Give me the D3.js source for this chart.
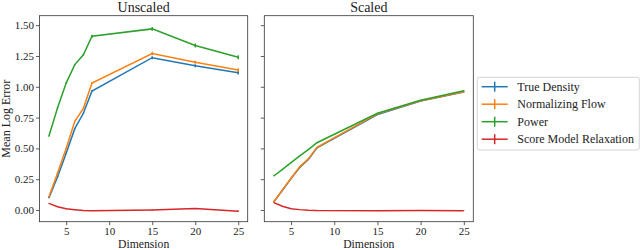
<!DOCTYPE html>
<html>
<head>
<meta charset="utf-8">
<script src="https://cdn.jsdelivr.net/npm/d3@7"></script>
<style>
  body { margin: 0; background: #fff; }
  svg text { font-family: "Liberation Serif", "DejaVu Serif", serif; fill: #222; }
</style>
</head>
<body>
<svg id="svg" width="640" height="250"></svg>
<script>
// dimensions on the x axis
var dims = [3, 4, 5, 6, 7, 8, 15, 20, 25];

var seriesNames = ["True Density", "Normalizing Flow", "Power", "Score Model Relaxation"];
var colors = ["#1f77b4", "#ff7f0e", "#2ca02c", "#d62728"];

// unscaled panel
var unscaledTrue  = [0.10, 0.27, 0.46, 0.66, 0.785, 0.966, 1.236, 1.17, 1.114];
var unscaledFlow  = [0.108, 0.30, 0.50, 0.72, 0.825, 1.03, 1.27, 1.20, 1.136];
var unscaledPower = [0.60, 0.83, 1.03, 1.18, 1.26, 1.41, 1.47, 1.335, 1.24];
var unscaledScore = [0.054, 0.027, 0.01, 0.002, -0.005, -0.006, 0.0, 0.012, -0.01];
var unscaledErr   = [
  [0.005, 0.005, 0.005, 0.005, 0.005, 0.006, 0.012, 0.012, 0.014],
  [0.005, 0.005, 0.005, 0.005, 0.005, 0.008, 0.015, 0.012, 0.014],
  [0.005, 0.005, 0.005, 0.005, 0.006, 0.012, 0.016, 0.016, 0.016],
  [0.003, 0.003, 0.003, 0.003, 0.003, 0.003, 0.004, 0.004, 0.005]
];

// scaled panel
var scaledTrue  = [0.065, 0.16, 0.255, 0.345, 0.41, 0.505, 0.775, 0.885, 0.958];
var scaledFlow  = [0.067, 0.163, 0.258, 0.35, 0.415, 0.509, 0.78, 0.887, 0.96];
var scaledPower = [0.276, 0.33, 0.385, 0.44, 0.49, 0.546, 0.785, 0.89, 0.968];
var scaledScore = [0.06, 0.03, 0.01, 0.003, -0.002, -0.004, -0.006, -0.005, -0.006];
var scaledErr   = [
  [0.003, 0.003, 0.003, 0.003, 0.003, 0.003, 0.004, 0.004, 0.004],
  [0.003, 0.003, 0.003, 0.003, 0.003, 0.003, 0.004, 0.004, 0.004],
  [0.003, 0.003, 0.003, 0.003, 0.003, 0.003, 0.004, 0.004, 0.004],
  [0.002, 0.002, 0.002, 0.002, 0.002, 0.002, 0.002, 0.002, 0.002]
];

var xTicks = [5, 10, 15, 20, 25];
var yTicks = [0, 0.25, 0.5, 0.75, 1.0, 1.25, 1.5];

var svg = d3.select("#svg");

var plotTop = 15.7, plotBottom = 221.7;
var y = d3.scaleLinear().domain([-0.095, 1.577]).range([plotBottom, plotTop]);

var panels = [
  { title: "Unscaled", left: 39.5, right: 247.7, data: [unscaledTrue, unscaledFlow, unscaledPower, unscaledScore], err: unscaledErr, labels: true },
  { title: "Scaled", left: 264.3, right: 473.3, data: [scaledTrue, scaledFlow, scaledPower, scaledScore], err: scaledErr, labels: false }
];

panels.forEach(function(p) {
  var x = d3.scaleLinear().domain([1.9, 26.1]).range([p.left, p.right]);
  var g = svg.append("g");

  var xAxis = g.append("g")
    .attr("transform", "translate(0," + plotBottom + ")")
    .call(d3.axisBottom(x).tickValues(xTicks).tickSize(3.5).tickPadding(2).tickSizeOuter(0));
  var yAxis = g.append("g")
    .attr("transform", "translate(" + p.left + ",0)")
    .call(d3.axisLeft(y).tickValues(yTicks).tickSize(3.5).tickPadding(2).tickSizeOuter(0)
      .tickFormat(p.labels ? d3.format(".2f") : ""));
  [xAxis, yAxis].forEach(function(a) {
    a.attr("font-family", null).attr("font-size", null);
    a.select(".domain").remove();
    a.selectAll("line").attr("stroke", "#333").attr("stroke-width", 0.8);
    a.selectAll("text").style("font-size", "11px").attr("fill", "#222");
  });

  // lines drawn in order, red on top
  p.data.forEach(function(vals, i) {
    var pts = dims.map(function(d, j) { return [d, vals[j], p.err[i][j]]; });
    g.append("path")
      .datum(pts)
      .attr("fill", "none")
      .attr("stroke", colors[i])
      .attr("stroke-width", 1.5)
      .attr("d", d3.line().x(function(d) { return x(d[0]); }).y(function(d) { return y(d[1]); }));
    g.selectAll(null)
      .data(pts)
      .enter().append("line")
      .attr("x1", function(d) { return x(d[0]); })
      .attr("x2", function(d) { return x(d[0]); })
      .attr("y1", function(d) { return y(d[1] - d[2]); })
      .attr("y2", function(d) { return y(d[1] + d[2]); })
      .attr("stroke", colors[i])
      .attr("stroke-width", 1.5);
  });

  // frame
  g.append("rect")
    .attr("x", p.left).attr("y", plotTop)
    .attr("width", p.right - p.left).attr("height", plotBottom - plotTop)
    .attr("fill", "none").attr("stroke", "#333").attr("stroke-width", 0.8);

  g.append("text")
    .attr("x", (p.left + p.right) / 2).attr("y", 11.5)
    .attr("text-anchor", "middle")
    .style("font-size", "14px")
    .text(p.title);

  g.append("text")
    .attr("x", (p.left + p.right) / 2).attr("y", 247.5)
    .attr("text-anchor", "middle")
    .style("font-size", "11.7px")
    .text("Dimension");
});

svg.append("text")
  .attr("transform", "translate(9.5," + ((plotTop + plotBottom) / 2) + ") rotate(-90)")
  .attr("text-anchor", "middle")
  .style("font-size", "12px")
  .text("Mean Log Error");

// legend
var legend = svg.append("g").attr("transform", "translate(477.3,77.3)");
legend.append("rect")
  .attr("width", 162).attr("height", 72.7).attr("rx", 2)
  .attr("fill", "#fff").attr("fill-opacity", 0.8)
  .attr("stroke", "#ccc").attr("stroke-width", 0.8);
seriesNames.forEach(function(name, i) {
  var ly = 9.4 + i * 17.5;
  legend.append("line").attr("x1", 4.4).attr("x2", 30.4).attr("y1", ly).attr("y2", ly)
    .attr("stroke", colors[i]).attr("stroke-width", 1.5);
  legend.append("line").attr("x1", 17.4).attr("x2", 17.4).attr("y1", ly - 5).attr("y2", ly + 5)
    .attr("stroke", colors[i]).attr("stroke-width", 1.5);
  legend.append("text").attr("x", 40).attr("y", ly + 4)
    .style("font-size", "12px")
    .text(name);
});
</script>
</body>
</html>
